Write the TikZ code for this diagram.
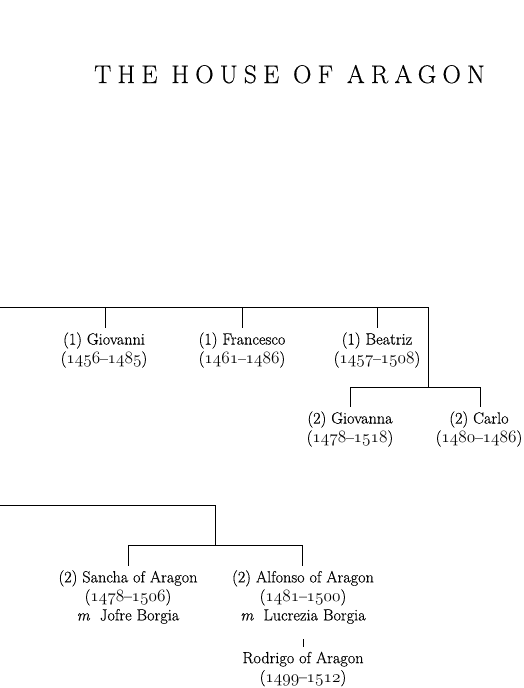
\documentclass[tikz,border=0pt]{standalone}
\usepackage{fontspec}
\setmainfont{Latin Modern Roman}[FakeBold=0.4]
\newfontfamily\ttlfont{Latin Modern Roman}[LetterSpace=24.5,FakeBold=0.4]
\newcommand\osf[1]{{\fontencoding{OML}\fontfamily{lmm}\fontseries{m}\fontshape{it}\selectfont #1}}
\newcommand\yrs[2]{(\osf{#1}--\osf{#2})}
\begin{document}
\begin{tikzpicture}[x=1pt,y=-1pt,line width=0.9pt,
  lbl/.style={font=\fontsize{16.2}{19}\selectfont, align=center, inner xsep=0pt, inner ysep=4pt},
  ttl/.style={font=\ttlfont\fontsize{25.5}{30}\selectfont, inner sep=0pt, anchor=base}]
\useasboundingbox (0,0) rectangle (523,688);
\node[ttl] (title) at (289.5,83) {THE HOUSE OF ARAGON};
% upper family
\coordinate (L1) at (0,307);
\coordinate (R1) at (428,307);
\coordinate (J1) at (428,387);
\coordinate (d1) at (105,307);
\coordinate (d2) at (242,307);
\coordinate (d3) at (377,307);
\node[lbl] (giov) at (104,350) {(1) Giovanni\\\yrs{1456}{1485}};
\node[lbl] (fran) at (242,350) {(1) Francesco\\\yrs{1461}{1486}};
\node[lbl] (beat) at (377,350) {(1) Beatriz\\\yrs{1457}{1508}};
\draw (L1) -- (R1) -- (J1);
\draw (d1) -- (d1 |- giov.north);
\draw (d2) -- (d2 |- fran.north);
\draw (d3) -- (d3 |- beat.north);
\coordinate (g2) at (350,387);
\coordinate (c2) at (480,387);
\node[lbl] (gna) at (350,429) {(2) Giovanna\\\yrs{1478}{1518}};
\node[lbl] (carlo) at (479,429) {(2) Carlo\\\yrs{1480}{1486}};
\draw (g2) -- (c2);
\draw (g2) -- (g2 |- gna.north);
\draw (c2) -- (c2 |- carlo.north);
% lower family
\coordinate (L2) at (0,505);
\coordinate (R2) at (215,505);
\coordinate (J2) at (215,545);
\coordinate (s2) at (128,545);
\coordinate (a2) at (302,545);
\node[lbl] (sancha) at (128,597) {(2) Sancha of Aragon\\\yrs{1478}{1506}\\\textit{m}\ \ Jofre Borgia};
\node[lbl] (alf) at (303,597) {(2) Alfonso of Aragon\\\yrs{1481}{1500}\\\textit{m}\ \ Lucrezia Borgia};
\node[lbl] (rod) at (303,669) {Rodrigo of Aragon\\\yrs{1499}{1512}};
\draw (L2) -- (R2) -- (J2);
\draw (s2) -- (a2);
\draw (s2) -- (s2 |- sancha.north);
\draw (a2) -- (a2 |- alf.north);
\draw[shorten <=11pt] (alf.south) -- (rod.north);
\end{tikzpicture}
\end{document}
